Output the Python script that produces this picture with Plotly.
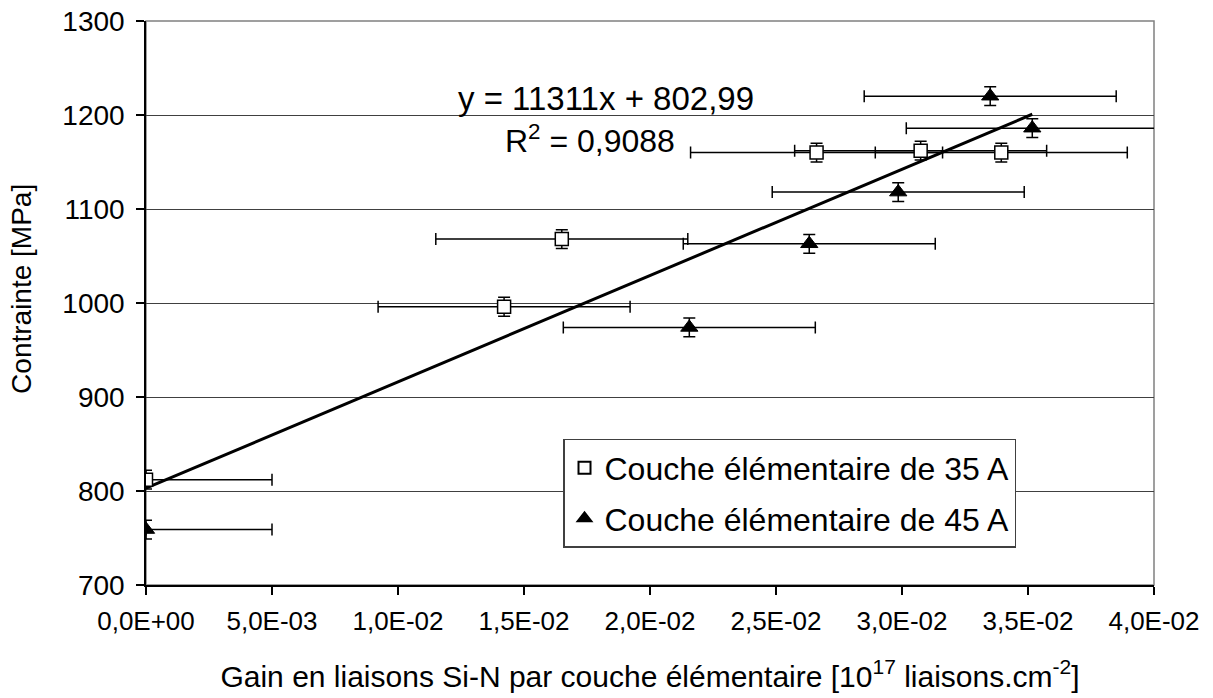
import plotly.graph_objects as go

# ---- data ----
x_35 = [0.0, 0.01421, 0.01650, 0.02661, 0.03074, 0.03394]
y_35 = [812, 996, 1068, 1160, 1162, 1160]
x_45 = [0.0, 0.02156, 0.02632, 0.02985, 0.03350, 0.03517]
y_45 = [759, 974, 1063, 1118, 1220, 1186]
xerr_plus_35 = [0.005, 0.005, 0.005, 0.005, 0.005, 0.005]
xerr_minus_35 = [0.0, 0.005, 0.005, 0.005, 0.005, 0.005]
xerr_plus_45 = [0.005, 0.005, 0.005, 0.005, 0.005, 0.005]
xerr_minus_45 = [0.0, 0.005, 0.005, 0.005, 0.005, 0.005]
yerr_35 = [10, 10, 10, 10, 10, 10]
yerr_45 = [10, 10, 10, 10, 10, 10]

# trend line y = 11311x + 802,99 drawn over the data range
slope = 11311
intercept = 802.99
trend_x = [0.0, 0.03517]
trend_y = [slope * v + intercept for v in trend_x]

x_tickvals = [0, 0.005, 0.01, 0.015, 0.02, 0.025, 0.03, 0.035, 0.04]
x_ticktext = ["0,0E+00", "5,0E-03", "1,0E-02", "1,5E-02", "2,0E-02",
              "2,5E-02", "3,0E-02", "3,5E-02", "4,0E-02"]
y_tickvals = [700, 800, 900, 1000, 1100, 1200, 1300]

FONT = "Liberation Sans, Arial, sans-serif"

fig = go.Figure()

fig.add_trace(go.Scatter(
    x=trend_x, y=trend_y, mode="lines",
    line=dict(color="black", width=3), showlegend=False, hoverinfo="skip"))

err_style = dict(color="black", thickness=1.5, width=6)

fig.add_trace(go.Scatter(
    x=x_35, y=y_35, mode="markers", name="Couche élémentaire de 35 A",
    legendgroup="a",
    marker=dict(symbol="square", size=13, color="white",
                line=dict(color="black", width=1.5)),
    error_x=dict(type="data", symmetric=False, array=xerr_plus_35,
                 arrayminus=xerr_minus_35, **err_style),
    error_y=dict(type="data", array=yerr_35, **err_style)))

fig.add_trace(go.Scatter(
    x=x_45, y=y_45, mode="markers", name="Couche élémentaire de 45 A",
    legendgroup="b",
    marker=dict(symbol="triangle-up", size=15, color="black",
                line=dict(color="black", width=1)),
    error_x=dict(type="data", symmetric=False, array=xerr_plus_45,
                 arrayminus=xerr_minus_45, **err_style),
    error_y=dict(type="data", array=yerr_45, **err_style)))

fig.add_shape(type="rect", xref="paper", yref="paper", x0=0, y0=0, x1=1, y1=1,
              line=dict(color="#808080", width=1.5), layer="below")

fig.add_annotation(x=0.01825, y=1218, xref="x", yref="y",
                   text="y = 11311x + 802,99", showarrow=False,
                   font=dict(family=FONT, size=33, color="black"))
fig.add_annotation(x=0.0176, y=1174, xref="x", yref="y",
                   text="R<sup>2</sup> = 0,9088", showarrow=False,
                   font=dict(family=FONT, size=32, color="black"))

# y-axis title placed as in the reference (slightly above plot centre)
fig.add_annotation(x=-0.123, y=0.525, xref="paper", yref="paper",
                   text="Contrainte [MPa]", textangle=-90, showarrow=False,
                   xanchor="center", yanchor="middle",
                   font=dict(family=FONT, size=28, color="black"))

fig.update_layout(
    width=1213, height=698,
    margin=dict(l=146, r=59, t=21, b=113, autoexpand=False),
    paper_bgcolor="white", plot_bgcolor="white",
    font=dict(family=FONT, size=26, color="black"),
    legend=dict(x=0.4137, y=0.259, xanchor="left", yanchor="top",
                bgcolor="white", bordercolor="#404040", borderwidth=1.5,
                font=dict(family=FONT, size=32, color="black"),
                itemsizing="constant", tracegroupgap=6,
                traceorder="grouped"),
)

fig.update_xaxes(
    range=[0, 0.04], tickvals=x_tickvals, ticktext=x_ticktext,
    ticks="outside", ticklen=8, tickcolor="black", tickwidth=1.5,
    showline=True, linecolor="black", linewidth=1.5, automargin=False,
    showgrid=False, zeroline=False, ticklabelstandoff=4,
    tickfont=dict(family=FONT, size=26, color="black"),
    title=dict(text="Gain en liaisons Si-N par couche élémentaire [10<sup>17</sup> liaisons.cm<sup>-2</sup>]",
               font=dict(family=FONT, size=30, color="black"), standoff=31))

fig.update_yaxes(
    range=[700, 1300], tickvals=y_tickvals,
    ticks="outside", ticklen=8, tickcolor="black", tickwidth=1.5,
    showline=True, linecolor="black", linewidth=1.5, automargin=False,
    showgrid=True, gridcolor="#404040", gridwidth=1, zeroline=False,
    ticklabelstandoff=6,
    tickfont=dict(family=FONT, size=28, color="black"))

fig.write_html("out.html", config={"displayModeBar": False},
               post_script="document.body.style.margin='0';")
